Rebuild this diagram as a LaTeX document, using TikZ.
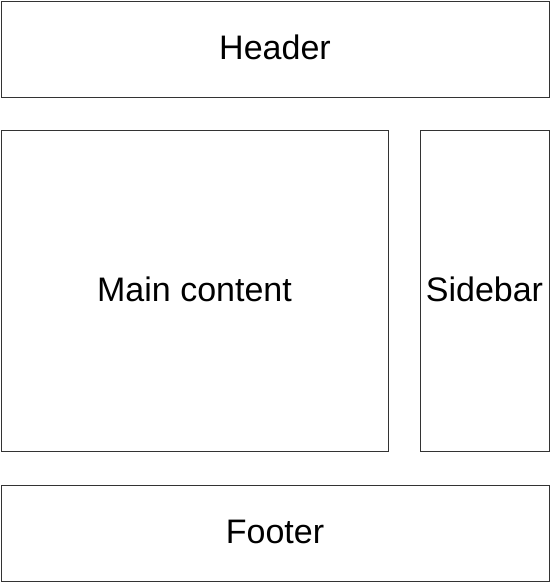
\documentclass[tikz,border=0pt]{standalone}
\usepackage{fontspec}
\setmainfont{Liberation Sans}
\begin{document}
\begin{tikzpicture}[x=1pt,y=-1pt,
  region/.style={draw=black!80,line width=1pt,fill=white,inner sep=0pt,text height=24pt,text depth=2.5pt,font=\fontsize{34}{39}\selectfont}]
\useasboundingbox (0,0) rectangle (550,582);
\node[region,minimum width=548pt,minimum height=96pt] (header) at (275,49) {Header};
\node[region,minimum width=387pt,minimum height=321pt] (main) at (194.5,291) {Main content};
\node[region,minimum width=129pt,minimum height=321pt] (sidebar) at (484.5,291) {Sidebar};
\node[region,minimum width=548pt,minimum height=96pt] (footer) at (275,533) {Footer};
\end{tikzpicture}
\end{document}
